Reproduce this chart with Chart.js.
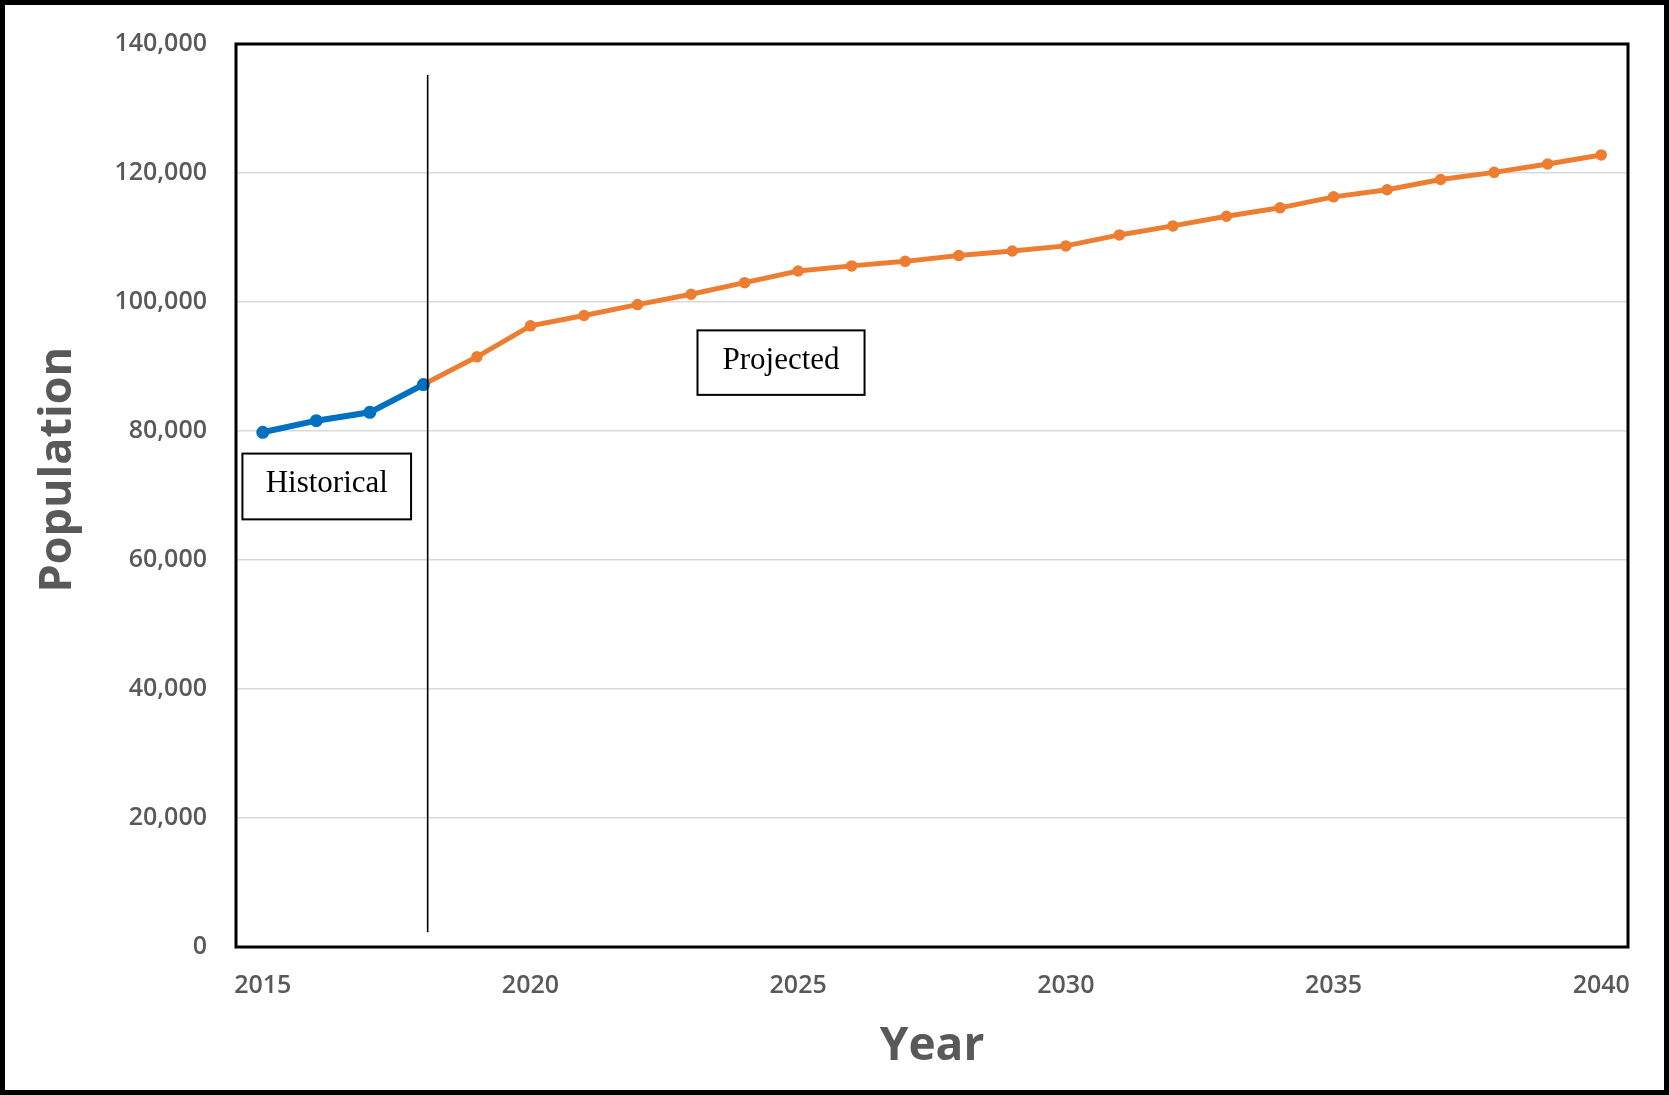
<!DOCTYPE html>
<html>
<head>
<meta charset="utf-8">
<title>Population</title>
<script src="https://cdn.jsdelivr.net/npm/chart.js@4.4.1/dist/chart.umd.min.js"></script>
<style>
  html, body { margin: 0; padding: 0; background: #fff; }
  #wrap { position: relative; width: 1669px; height: 1095px; }
  #wrap::after { content: ""; position: absolute; inset: 0; border: 5px solid #000; pointer-events: none; }
  canvas { display: block; }
</style>
</head>
<body>
<div id="wrap"><canvas id="chart" width="1669" height="1095"></canvas></div>
<script>
// data
const historicalYears = [2015, 2016, 2017, 2018];
const historicalPop = [79800, 81600, 82900, 87200];

const projectedYears = [2018, 2019, 2020, 2021, 2022, 2023, 2024, 2025, 2026, 2027, 2028, 2029,
  2030, 2031, 2032, 2033, 2034, 2035, 2036, 2037, 2038, 2039, 2040];
const projectedPop = [87200, 91500, 96300, 97900, 99600, 101200, 103000, 104800, 105600, 106300,
  107200, 107900, 108700, 110400, 111800, 113300, 114600, 116300, 117400, 119000, 120100, 121400, 122800];

const xTicks = [2015, 2020, 2025, 2030, 2035, 2040];
const yTicks = [0, 20000, 40000, 60000, 80000, 100000, 120000, 140000];

// annotation labels (in data units)
const labelTexts = ["Historical", "Projected"];
const labelYearSpan = [[2014.62, 2017.77], [2023.12, 2026.24]];
const labelPopSpan = [[76500, 66300], [95600, 85600]];
const dividerYear = 2018.08;
const dividerPopSpan = [135200, 2300];

const toPoints = (xs, ys) => xs.map((x, i) => ({ x: x, y: ys[i] }));

const tickFont = { family: "'Open Sans', sans-serif", size: 25, weight: "600" };
const titleFont = { family: "'Open Sans', sans-serif", size: 46, weight: "bold" };
const gray = "#595959";

const overlayPlugin = {
  id: "overlay",
  afterDatasetsDraw(chart) {
    const { ctx, chartArea: a, scales: { x, y } } = chart;
    ctx.save();

    // divider between historical and projected
    const dx = x.getPixelForValue(dividerYear);
    ctx.strokeStyle = "#000";
    ctx.lineWidth = 1.6;
    ctx.beginPath();
    ctx.moveTo(dx, y.getPixelForValue(dividerPopSpan[0]));
    ctx.lineTo(dx, y.getPixelForValue(dividerPopSpan[1]));
    ctx.stroke();

    // text boxes
    ctx.font = "31px 'Liberation Serif', 'Times New Roman', serif";
    ctx.textAlign = "center";
    ctx.textBaseline = "alphabetic";
    labelTexts.forEach((t, i) => {
      const x0 = x.getPixelForValue(labelYearSpan[i][0]);
      const x1 = x.getPixelForValue(labelYearSpan[i][1]);
      const y0 = y.getPixelForValue(labelPopSpan[i][0]);
      const y1 = y.getPixelForValue(labelPopSpan[i][1]);
      ctx.fillStyle = "#fff";
      ctx.fillRect(x0, y0, x1 - x0, y1 - y0);
      ctx.lineWidth = 2;
      ctx.strokeRect(x0, y0, x1 - x0, y1 - y0);
      ctx.fillStyle = "#000";
      ctx.fillText(t, (x0 + x1) / 2, (y0 + y1) / 2 + 6);
    });

    // plot area frame
    ctx.lineWidth = 3;
    ctx.strokeRect(a.left, a.top, a.right - a.left, a.bottom - a.top);

    // y axis title sits a little above the middle of the axis in the original
    ctx.font = "bold 45px 'Open Sans', sans-serif";
    ctx.fillStyle = gray;
    ctx.textBaseline = "middle";
    ctx.translate(58, y.getPixelForValue(74000));
    ctx.rotate(-Math.PI / 2);
    ctx.fillText("Population", 0, 0);
    ctx.restore();
  }
};

new Chart(document.getElementById("chart"), {
  type: "line",
  data: {
    datasets: [
      {
        label: "Historical",
        data: toPoints(historicalYears, historicalPop),
        borderColor: "#0070C0",
        backgroundColor: "#0070C0",
        borderWidth: 6,
        pointRadius: 5.5,
        pointBorderWidth: 2,
        tension: 0,
      },
      {
        label: "Projected",
        data: toPoints(projectedYears, projectedPop),
        borderColor: "#ED7D31",
        backgroundColor: "#ED7D31",
        borderWidth: 5,
        pointRadius: 5,
        pointBorderWidth: 1.5,
        tension: 0,
      },
    ],
  },
  options: {
    responsive: false,
    animation: false,
    layout: { padding: { top: 42, right: 41, left: 0, bottom: 0 } },
    plugins: {
      legend: { display: false },
      tooltip: { enabled: false },
    },
    scales: {
      x: {
        type: "linear",
        min: 2014.5,
        max: 2040.5,
        afterBuildTicks: (s) => { s.ticks = xTicks.map((v) => ({ value: v })); },
        afterFit: (s) => { s.height = 1095 - 947; },
        ticks: { font: tickFont, color: gray, padding: 24, maxRotation: 0, callback: (v) => String(v) },
        grid: { display: false, drawTicks: false },
        border: { display: false },
        title: { display: true, text: "Year", font: titleFont, color: gray, padding: { top: 0, bottom: 21 } },
      },
      y: {
        min: 0,
        max: 140000,
        afterBuildTicks: (s) => { s.ticks = yTicks.map((v) => ({ value: v })); },
        afterFit: (s) => { s.width = 236; },
        ticks: { font: tickFont, color: gray, padding: 29, callback: (v) => v.toLocaleString("en-US") },
        grid: { color: "#d9d9d9", lineWidth: 1.5, drawTicks: false, tickLength: 0 },
        border: { display: false },
        title: { display: false },
      },
    },
  },
  plugins: [overlayPlugin],
});
</script>
</body>
</html>
